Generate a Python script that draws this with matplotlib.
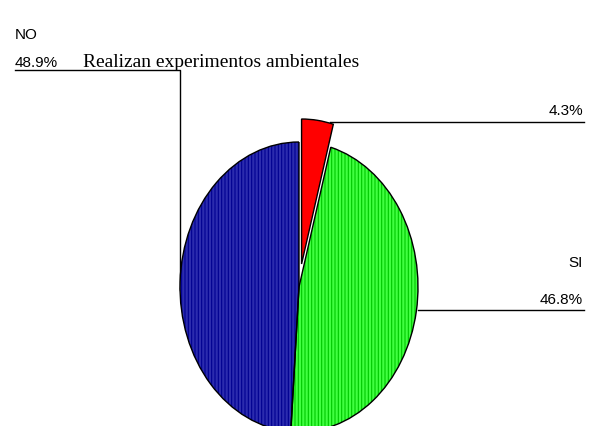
import numpy as np
import matplotlib.pyplot as plt
from matplotlib.lines import Line2D

categorias = ["", "SI", "NO"]
porcentajes = [4.3, 46.8, 48.9]
colores = ["#ff0000", "#40ff40", "#2c2cae"]
rayas = ["#ff0000", "#00c800", "#000090"]
titulo = "Realizan experimentos ambientales"

plt.rcParams["hatch.linewidth"] = 0.8

W, H = 598, 426
fig = plt.figure(figsize=(W / 100, H / 100), dpi=100)

# pixel -> figure fraction
def px(x, y):
    return x / W, 1 - y / H

ax = fig.add_axes([0, 0, 1, 1])
cx, cy, rx, ry = 299, 287, 119, 145

explode = [0.16, 0, 0]
w1, _ = ax.pie(porcentajes, colors=colores, startangle=90, counterclock=False,
               explode=explode, wedgeprops=dict(linewidth=0))
for w, c in zip(w1[1:], rayas[1:]):
    w.set_hatch("|||||")
    w.set_edgecolor(c)
w2, _ = ax.pie(porcentajes, startangle=90, counterclock=False, explode=explode,
               wedgeprops=dict(fill=False, edgecolor="black", linewidth=1.0))
ax.set_xlim(-cx / rx, (W - cx) / rx)
ax.set_ylim((cy - H) / ry, cy / ry)
ax.set_aspect("auto")
ax.axis("off")

# leader lines
def linea(xs, ys):
    p = [px(x, y) for x, y in zip(xs, ys)]
    fig.add_artist(Line2D([a for a, b in p], [b for a, b in p], color="black",
                          linewidth=1.0, zorder=0))

linea([15, 180, 180], [70, 70, 290])
linea([330, 584], [122, 122])
linea([418, 584], [310, 310])

fs = dict(family="Liberation Sans", fontsize=11)
fig.text(*px(15, 35), categorias[2], ha="left", va="center", **fs)
fig.text(*px(15, 67), f"{porcentajes[2]}%", ha="left", va="baseline", **fs)
fig.text(*px(583, 115), f"{porcentajes[0]}%", ha="right", va="baseline", **fs)
fig.text(*px(583, 263), categorias[1], ha="right", va="center", **fs)
fig.text(*px(583, 304), f"{porcentajes[1]}%", ha="right", va="baseline", **fs)
fig.text(*px(221, 67), titulo, ha="center", va="baseline",
         family="Liberation Serif", fontsize=14)

fig.savefig("out.png", dpi=100)
